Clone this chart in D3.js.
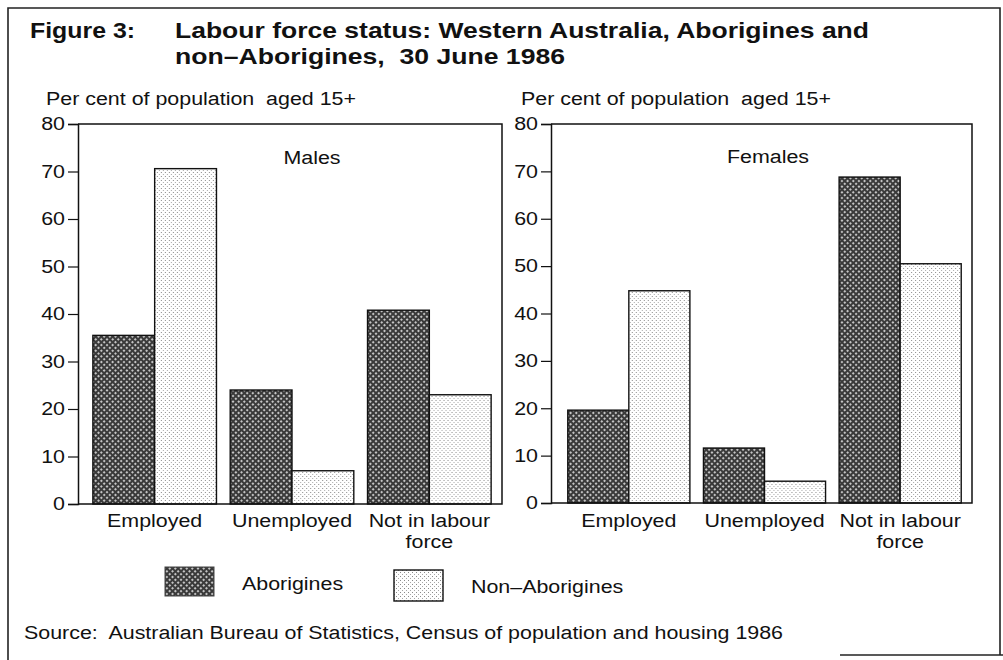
<!DOCTYPE html>
<html>
<head>
<meta charset="utf-8">
<script src="https://cdn.jsdelivr.net/npm/d3@7"></script>
<style>
  body { margin: 0; background: #fff; }
  svg text { font-family: "Liberation Sans", Arial, sans-serif; fill: #111; white-space: pre; }
</style>
</head>
<body>
<div id="chart"></div>
<script>
// Data (per cent of population aged 15+)
const categories = ["Employed", "Unemployed", "Not in labour force"];
const catLines = [["Employed"], ["Unemployed"], ["Not in labour", "force"]];
const groups = ["Aborigines", "Non\u2013Aborigines"];
const malesAbo = [35.5, 24, 40.8];
const malesNon = [70.6, 7, 23];
const femalesAbo = [19.6, 11.6, 68.8];
const femalesNon = [44.8, 4.6, 50.5];
const yTicks = [0, 10, 20, 30, 40, 50, 60, 70, 80];

const width = 1003, height = 660;
const sx = 1.19; // the scanned type is wider than Helvetica, stretch it a bit

let svg = d3.select("#chart").append("svg")
  .attr("width", width).attr("height", height);

// fill patterns
let defs = svg.append("defs");
let pa = defs.append("pattern").attr("id", "abo")
  .attr("patternUnits", "userSpaceOnUse").attr("width", 4).attr("height", 4)
  .attr("patternTransform", "rotate(45)");
pa.append("rect").attr("width", 4).attr("height", 4).attr("fill", "#3a3a3a");
pa.append("rect").attr("x", 1).attr("y", 1).attr("width", 2).attr("height", 2).attr("fill", "#c4c4c4");

let pn = defs.append("pattern").attr("id", "non")
  .attr("patternUnits", "userSpaceOnUse").attr("width", 4).attr("height", 4);
pn.append("rect").attr("width", 4).attr("height", 4).attr("fill", "#fff");
pn.append("rect").attr("x", 0).attr("y", 0).attr("width", 1).attr("height", 1).attr("fill", "#8a8a8a");
pn.append("rect").attr("x", 2).attr("y", 2).attr("width", 1).attr("height", 1).attr("fill", "#a8a8a8");

const fills = ["url(#abo)", "url(#non)"];

//helper for stretched text
function label(x, y, txt, size, anchor, weight) {
  return svg.append("text")
    .attr("transform", "translate(" + x + "," + y + ") scale(" + sx + ",1)")
    .attr("text-anchor", anchor || "start")
    .style("font-size", size + "px")
    .style("font-weight", weight || "normal")
    .text(txt);
}
function titleLine(x, y, len, txt) {
  return svg.append("text").attr("x", x).attr("y", y)
    .style("font-size", "22px").style("font-weight", "bold")
    .attr("textLength", len).attr("lengthAdjust", "spacingAndGlyphs").text(txt);
}

// outer frame (scan has bottom edge only at the right)
let frame = svg.append("g").attr("stroke", "#222").attr("stroke-width", 1.6).attr("fill", "none");
frame.append("path").attr("d", "M8,660 V8 H1000 V655");
frame.append("path").attr("d", "M840,655 H1003");

// title
titleLine(30, 38, 105, "Figure 3:");
titleLine(175, 38, 694, "Labour force status: Western Australia, Aborigines and");
titleLine(175, 64, 390, "non\u2013Aborigines,  30 June 1986");

let panels = [
  {name: "Males", abo: malesAbo, non: malesNon, x0: 78, x1: 502, y0: 504, y1: 124, band: [86, 498], tx: 312, ty: 164, px: 46},
  {name: "Females", abo: femalesAbo, non: femalesNon, x0: 551, x1: 972, y0: 503, y1: 124, band: [561, 968], tx: 768, ty: 163, px: 521}
];

panels.forEach(function(p) {
  let y = d3.scaleLinear().domain([0, 80]).range([p.y0, p.y1]);
  let x = d3.scaleBand().domain(categories).range(p.band).paddingInner(0.1).paddingOuter(0.05);
  let x1 = d3.scaleBand().domain(groups).range([0, x.bandwidth()]);

  label(p.px, 105, "Per cent of population  aged 15+", 18);

  // bars
  let rows = categories.map((c, i) => ({cat: c, vals: [p.abo[i], p.non[i]]}));
  let g = svg.append("g");
  g.selectAll(".grp").data(rows).enter().append("g")
    .attr("transform", d => "translate(" + x(d.cat) + ",0)")
    .selectAll("rect").data(d => d.vals.map((v, j) => ({g: groups[j], v: v, j: j})))
    .enter().append("rect")
      .attr("x", d => x1(d.g))
      .attr("width", x1.bandwidth())
      .attr("y", d => y(d.v))
      .attr("height", d => y(0) - y(d.v))
      .attr("fill", d => fills[d.j])
      .attr("stroke", "#111").attr("stroke-width", 1.4);

  // plot box: top, right, baseline
  svg.append("path")
    .attr("d", "M" + p.x0 + "," + y(80) + "H" + p.x1 + "V" + y(0) + "H" + p.x0)
    .attr("fill", "none").attr("stroke", "#111").attr("stroke-width", 1.5);

  // y axis
  let ax = svg.append("g").attr("transform", "translate(" + p.x0 + ",0)")
    .call(d3.axisLeft(y).tickValues(yTicks).tickSize(10).tickPadding(2));
  ax.select(".domain").attr("stroke", "#111").attr("stroke-width", 1.5);
  ax.selectAll(".tick line").attr("stroke", "#111").attr("stroke-width", 1.2);
  ax.selectAll(".tick text")
    .style("font-size", "18px").style("font-family", "Liberation Sans, Arial, sans-serif")
    .attr("fill", "#111")
    .attr("x", null)
    .attr("transform", "translate(-13,0) scale(" + sx + ",1)");

  // panel title
  label(p.tx, p.ty, p.name, 18, "middle");

  // category labels
  categories.forEach(function(c, i) {
    let cx = x(c) + x.bandwidth() / 2;
    catLines[i].forEach(function(t, k) {
      label(cx, 527 + k * 21, t, 18, "middle");
    });
  });
});

// legend
svg.append("rect").attr("x", 165).attr("y", 567).attr("width", 49).attr("height", 29)
  .attr("fill", fills[0]).attr("stroke", "#444").attr("stroke-width", 1);
label(242, 590, groups[0], 18);
svg.append("rect").attr("x", 394).attr("y", 570).attr("width", 49).attr("height", 31)
  .attr("fill", fills[1]).attr("stroke", "#111").attr("stroke-width", 1.4);
label(471, 593, groups[1], 18);

// source
label(24, 639, "Source:  Australian Bureau of Statistics, Census of population and housing 1986", 18);
</script>
</body>
</html>
